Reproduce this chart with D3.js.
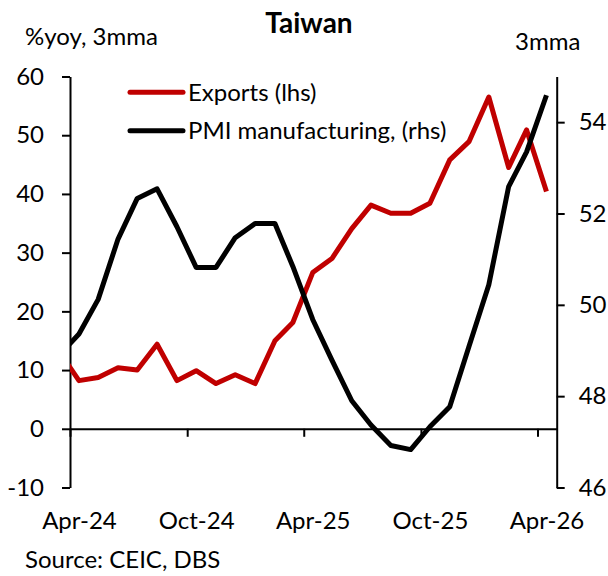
<!DOCTYPE html>
<html>
<head>
<meta charset="utf-8">
<script src="https://cdn.jsdelivr.net/npm/d3@7"></script>
<style>
  body { margin: 0; background: #fff; }
  svg { font-family: Lato, "Open Sans", sans-serif; }
</style>
</head>
<body>
<svg width="608" height="576"></svg>
<script>
// monthly points, plotted mid-month (the Mar-24 point sits left of the axis and gets clipped)
var months = ["2024-03-15", "2024-04-15", "2024-05-15", "2024-06-15", "2024-07-15", "2024-08-15",
  "2024-09-15", "2024-10-15", "2024-11-15", "2024-12-15", "2025-01-15", "2025-02-15", "2025-03-15",
  "2025-04-15", "2025-05-15", "2025-06-15", "2025-07-15", "2025-08-15", "2025-09-15", "2025-10-15",
  "2025-11-15", "2025-12-15", "2026-01-15", "2026-02-15", "2026-03-15", "2026-04-15"];
var exportsYoy = [13.2, 8.2, 8.75, 10.4, 10.0, 14.4, 8.2, 9.9, 7.7, 9.2, 7.7, 15.0, 18.1,
  26.6, 29.0, 34.1, 38.1, 36.7, 36.7, 38.4, 45.8, 48.9, 56.5, 44.5, 50.9, 40.4];
var pmiMfg = [48.9, 49.36, 50.12, 51.44, 52.33, 52.54, 51.71, 50.82, 50.82, 51.47, 51.78, 51.78, 50.84,
  49.68, 48.79, 47.9, 47.37, 46.92, 46.83, 47.33, 47.77, 49.09, 50.44, 52.59, 53.35, 54.59];

var leftTicks = [-10, 0, 10, 20, 30, 40, 50, 60];
var rightTicks = [46, 48, 50, 52, 54];
var xTicks = ["2024-04-01", "2024-10-01", "2025-04-01", "2025-10-01", "2026-04-01"];
var xLabels = ["2024-04-15", "2024-10-15", "2025-04-15", "2025-10-15", "2026-04-15"];
var seriesNames = ["Exports (lhs)", "PMI manufacturing, (rhs)"];
var seriesColors = ["#c00000", "#000000"];

var parse = d3.timeParse("%Y-%m-%d");
var svg = d3.select("svg");
var pLeft = 70, pRight = 556.7, pTop = 76.5, pBottom = 487.5;
var fs = 24;

var x = d3.scaleTime().domain([parse("2024-04-01"), parse("2026-05-01")]).range([pLeft, pRight]);
var yL = d3.scaleLinear().domain([-10, 60]).range([pBottom, pTop]);
var yR = d3.scaleLinear().domain([46, 55]).range([pBottom, pTop]);

svg.append("defs").append("clipPath").attr("id", "plot")
  .append("rect").attr("x", pLeft).attr("y", 0).attr("width", pRight - pLeft).attr("height", 576);

function styleAxis(g) {
  g.attr("font-family", null);
  g.selectAll("path, line").attr("stroke", "#000").attr("stroke-width", 2);
  g.selectAll("text").attr("fill", "#000").style("font-size", fs + "px");
}

// left axis (plain hyphen for negatives, like the original)
svg.append("g")
  .attr("transform", "translate(" + pLeft + ",0)")
  .call(d3.axisLeft(yL).tickValues(leftTicks).tickSize(8).tickSizeOuter(0).tickPadding(18)
    .tickFormat(d => String(d)))
  .call(styleAxis);

// right axis
svg.append("g")
  .attr("transform", "translate(" + pRight + ",0)")
  .call(d3.axisRight(yR).tickValues(rightTicks).tickSize(8).tickSizeOuter(0).tickPadding(14))
  .call(styleAxis);

// zero line with month ticks
svg.append("g")
  .attr("transform", "translate(0," + yL(0) + ")")
  .call(d3.axisBottom(x).tickValues(xTicks.map(parse)).tickSize(8).tickSizeOuter(0).tickFormat(""))
  .call(styleAxis);

// month labels at bottom of plot
var xl = svg.append("g")
  .attr("transform", "translate(0," + pBottom + ")")
  .call(d3.axisBottom(x).tickValues(xLabels.map(parse)).tickSize(0).tickPadding(24)
    .tickFormat(d3.timeFormat("%b-%y")))
  .call(styleAxis);
xl.select(".domain").remove();

// lines
var lineL = d3.line().x((d, i) => x(parse(months[i]))).y(d => yL(d));
var lineR = d3.line().x((d, i) => x(parse(months[i]))).y(d => yR(d));

var plot = svg.append("g").attr("clip-path", "url(#plot)");
plot.append("path").datum(exportsYoy)
  .attr("d", lineL).attr("fill", "none").attr("stroke", seriesColors[0])
  .attr("stroke-width", 5).attr("stroke-linejoin", "round");
plot.append("path").datum(pmiMfg)
  .attr("d", lineR).attr("fill", "none").attr("stroke", seriesColors[1])
  .attr("stroke-width", 5).attr("stroke-linejoin", "round");

// legend
var leg = svg.append("g").selectAll("g").data(seriesNames).enter().append("g")
  .attr("transform", (d, i) => "translate(130," + (92.3 + i * 38.4) + ")");
leg.append("line").attr("x1", 0).attr("x2", 53)
  .attr("stroke", (d, i) => seriesColors[i]).attr("stroke-width", 5).attr("stroke-linecap", "round");
leg.append("text").attr("x", 58).attr("dy", "0.35em").style("font-size", fs + "px")
  .text(d => d);

// titles
svg.append("text").attr("x", 309).attr("y", 33).attr("text-anchor", "middle")
  .style("font-size", "28px").style("font-weight", "bold").text("Taiwan");
svg.append("text").attr("x", 25).attr("y", 45).style("font-size", fs + "px").text("%yoy, 3mma");
svg.append("text").attr("x", 515).attr("y", 50).style("font-size", fs + "px").text("3mma");
svg.append("text").attr("x", 25).attr("y", 568).style("font-size", fs + "px").text("Source: CEIC, DBS");
</script>
</body>
</html>
